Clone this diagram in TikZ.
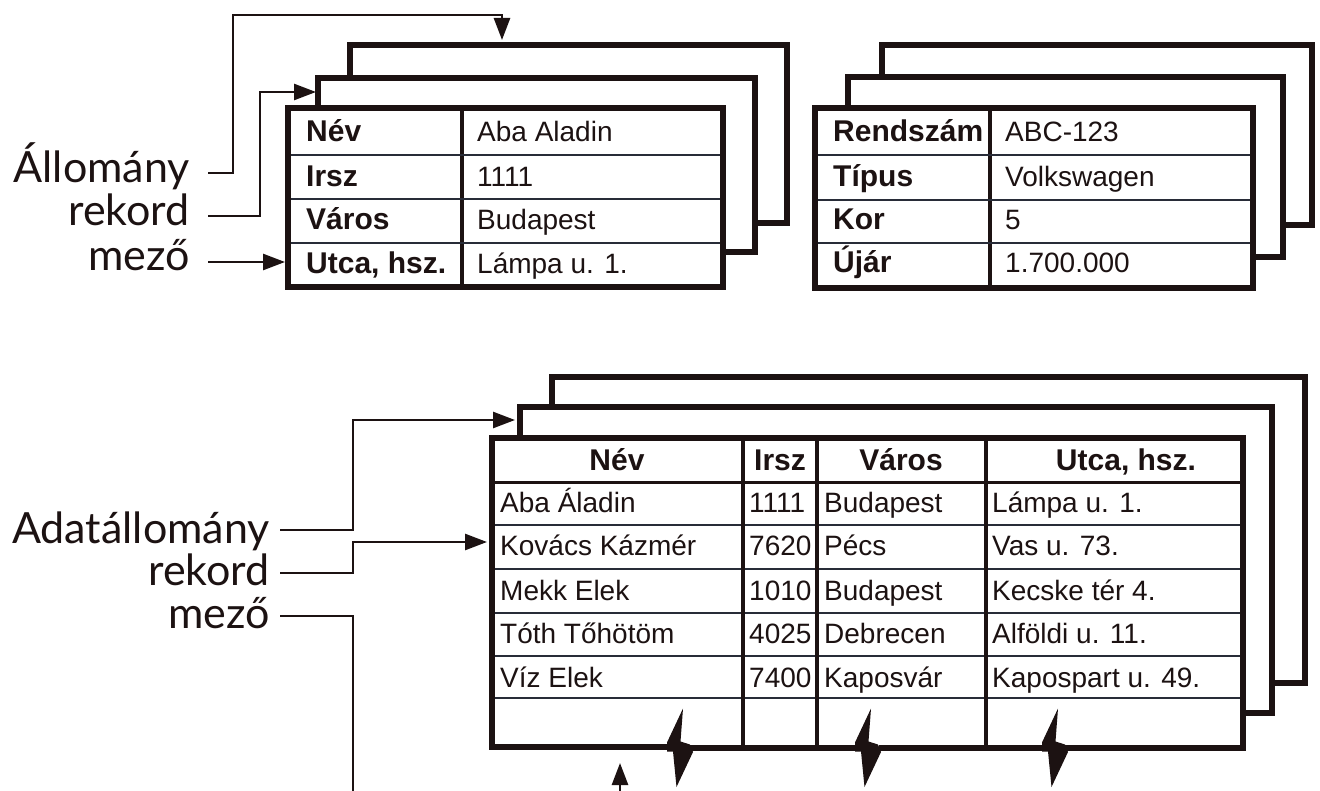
\documentclass[tikz,border=0pt]{standalone}
\usepackage{fontspec}
\setmainfont{Liberation Sans}
\newfontfamily\lblfont{Lato}
\usetikzlibrary{arrows.meta}
\definecolor{ink}{RGB}{28,18,18}
\definecolor{rulecol}{RGB}{40,44,56}
\begin{document}
\begin{tikzpicture}[x=1pt,y=-1pt,
  card/.style={draw=ink, line width=6.5pt, fill=white, line join=miter},
  edge6/.style={draw=ink, line width=6.5pt, line cap=rect},
  coldiv/.style={draw=ink, line width=3.5pt},
  hdrdiv/.style={draw=ink, line width=3pt},
  rowdiv/.style={draw=rulecol, line width=1.6pt},
  conn/.style={draw=ink, line width=2.6pt},
  arr/.style={conn, -{Triangle[length=22pt,width=16pt]}},
  bcell/.style={inner sep=0pt, anchor=base west, text=ink, font=\fontsize{30}{36}\selectfont\bfseries},
  pcell/.style={inner sep=0pt, anchor=base west, text=ink, font=\fontsize{28}{34}\selectfont},
  hcell/.style={inner sep=0pt, anchor=base, text=ink, font=\fontsize{30}{36}\selectfont\bfseries},
  lbl/.style={inner sep=0pt, anchor=base east, text=ink, font=\fontsize{43}{50}\selectfont\lblfont}
]
\useasboundingbox (0,0) rectangle (1320,791);
\clip (0,0) rectangle (1320,791);
\fill[white] (0,0) rectangle (1320,791);

% ---------- top-left stack ----------
\draw[card] (350,45) rectangle (787,223);
\draw[card] (318,78) rectangle (755,252);
\draw[card] (288,108) rectangle (723,287);
\draw[coldiv] (462,108) -- (462,287);
\foreach \yy in {155,199,243} \draw[rowdiv] (291,\yy) -- (720,\yy);
\node[bcell] (n1) at (306,142) {Név};
\node[bcell] (n2) at (306,187) {Irsz};
\node[bcell] (n3) at (306,230) {Város};
\node[bcell] (n4) at (306,274) {Utca, hsz.};
\node[pcell] (v1) at (477,142) {Aba Aladin};
\node[pcell] (v2) at (477,187) {1111};
\node[pcell] (v3) at (477,230) {Budapest};
\node[pcell] (v4) at (477,274) {Lámpa u. 1.};

% ---------- top-right stack ----------
\draw[card] (882,45) rectangle (1312,225);
\draw[card] (848,77) rectangle (1283,257);
\draw[card] (815,108) rectangle (1253,288);
\draw[coldiv] (990,108) -- (990,288);
\foreach \yy in {155,200,243} \draw[rowdiv] (818,\yy) -- (1250,\yy);
\node[bcell] (r1) at (833,142) {Rendszám};
\node[bcell] (r2) at (833,187) {Típus};
\node[bcell] (r3) at (833,230) {Kor};
\node[bcell] (r4) at (833,273) {Újár};
\node[pcell] (w1) at (1005,142) {ABC-123};
\node[pcell] (w2) at (1005,187) {Volkswagen};
\node[pcell] (w3) at (1005,230) {5};
\node[pcell] (w4) at (1005,273) {1.700.000};

% ---------- top labels and connectors ----------
\node[lbl] (lA) at (190,183) {Állomány};
\node[lbl] (lR) at (190,226) {rekord};
\node[lbl] (lM) at (190,271) {mező};
\coordinate (aS) at (208,173);
\coordinate (aE) at (502,40);
\coordinate (rS) at (208,216);
\coordinate (rE) at (316,92);
\coordinate (mS) at (208,262);
\coordinate (mE) at (285,262);
\draw[arr] (aS) -- (233,173) -- (233,15) -- (aE |- 0,15) -- (aE);
\draw[arr] (rS) -- (260,216) -- (260,92) -- (rE);
\draw[arr] (mS) -- (mE);

% ---------- bottom stack ----------
\draw[card] (552,377) rectangle (1305,683);
\draw[card] (520,407) rectangle (1272,713);
\fill[white] (492,438) rectangle (1243,747);
\draw[hdrdiv] (495,482) -- (1240,482);
\foreach \yy in {525,569,613,656,698} \draw[rowdiv] (495,\yy) -- (1240,\yy);
\foreach \xx in {743,817,986} \draw[coldiv] (\xx,438) -- (\xx,747);
\draw[edge6] (492,747) -- (492,438) -- (1243,438) -- (1243,747);
\draw[edge6, line cap=butt] (489,747) -- (668,747);
\draw[edge6, line cap=butt] (689,748) -- (857,748);
\draw[edge6, line cap=butt] (879,748) -- (1043,748);
\draw[edge6, line cap=butt] (1064,748) -- (1246.25,748);
\foreach \bx in {667,855,1042}
  \fill[ink] (\bx,742.5) -- (\bx+16,708.5) -- (\bx+13.5,741.5) -- (\bx+23,744.5)
    -- (\bx+26,752) -- (\bx+9.5,787) -- (\bx+6,751.5) -- (\bx,751.5) -- cycle;

\node[hcell] (h1) at (617,470) {Név};
\node[hcell] (h2) at (780,470) {Irsz};
\node[hcell] (h3) at (901,470) {Város};
\node[hcell] (h4) at (1126,470) {Utca, hsz.};

\node[pcell] (d11) at (500,512) {Aba Áladin};
\node[pcell] (d12) at (749,512) {1111};
\node[pcell] (d13) at (824,512) {Budapest};
\node[pcell] (d14) at (992,512) {Lámpa u. 1.};
\node[pcell] (d21) at (500,555) {Kovács Kázmér};
\node[pcell] (d22) at (749,555) {7620};
\node[pcell] (d23) at (824,555) {Pécs};
\node[pcell] (d24) at (992,555) {Vas u. 73.};
\node[pcell] (d31) at (500,600) {Mekk Elek};
\node[pcell] (d32) at (749,600) {1010};
\node[pcell] (d33) at (824,600) {Budapest};
\node[pcell] (d34) at (992,600) {Kecske tér 4.};
\node[pcell] (d41) at (500,643) {Tóth Tőhötöm};
\node[pcell] (d42) at (749,643) {4025};
\node[pcell] (d43) at (824,643) {Debrecen};
\node[pcell] (d44) at (992,643) {Alföldi u. 11.};
\node[pcell] (d51) at (500,687) {Víz Elek};
\node[pcell] (d52) at (749,687) {7400};
\node[pcell] (d53) at (824,687) {Kaposvár};
\node[pcell] (d54) at (992,687) {Kapospart u. 49.};

% ---------- bottom labels and connectors ----------
\node[lbl] (bA) at (270,543) {Adatállomány};
\node[lbl] (bR) at (270,585) {rekord};
\node[lbl] (bM) at (270,628) {mező};
\coordinate (baS) at (280,530);
\coordinate (baE) at (515,420);
\coordinate (brS) at (280,573);
\coordinate (brE) at (487,542);
\coordinate (bmS) at (280,616);
\coordinate (bmE) at (620,763);
\draw[arr] (baS) -- (353,530) -- (353,420) -- (baE);
\draw[arr] (brS) -- (353,573) -- (353,542) -- (brE);
\draw[arr] (bmS) -- (353,616) -- (353,830) -- (620,830) -- (bmE);
\end{tikzpicture}
\end{document}
